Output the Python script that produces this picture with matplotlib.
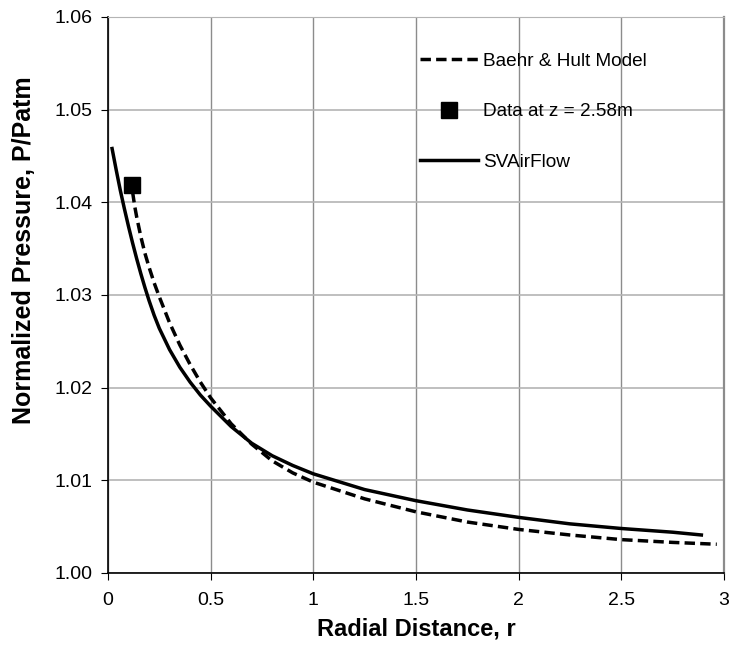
import matplotlib.pyplot as plt

plt.rcParams['font.family'] = ['Liberation Sans', 'DejaVu Sans']

# Baehr & Hult model (dashed)
r_model = [0.12, 0.13, 0.14, 0.16, 0.18, 0.2, 0.225, 0.25, 0.3, 0.35, 0.4, 0.45, 0.5, 0.6,
           0.7, 0.8, 0.9, 1.0, 1.25, 1.5, 1.75, 2.0, 2.25, 2.5, 2.75, 2.965]
p_model = [1.0411, 1.0396, 1.0384, 1.0363, 1.0345, 1.0330, 1.0313, 1.0298, 1.0270, 1.0246,
           1.0225, 1.0206, 1.0189, 1.0161, 1.0139, 1.0121, 1.0108, 1.0098, 1.0080, 1.0066,
           1.0055, 1.0047, 1.0041, 1.0036, 1.0033, 1.0031]

# measured point
r_data = [0.118]
p_data = [1.0419]

# SVAirFlow (solid)
r_sv = [0.02, 0.04, 0.06, 0.08, 0.10, 0.12, 0.14, 0.16, 0.18, 0.20, 0.225, 0.25, 0.3, 0.35,
        0.4, 0.45, 0.5, 0.6, 0.7, 0.8, 0.9, 1.0, 1.25, 1.5, 1.75, 2.0, 2.25, 2.5, 2.75, 2.89]
p_sv = [1.0458, 1.0435, 1.0413, 1.0393, 1.0374, 1.0356, 1.0339, 1.0323, 1.0308, 1.0294,
        1.0278, 1.0264, 1.0241, 1.0222, 1.0206, 1.0192, 1.0180, 1.0158, 1.0140, 1.01265,
        1.0116, 1.0107, 1.0090, 1.0078, 1.0068, 1.0060, 1.0053, 1.0048, 1.0044, 1.0041]

fig = plt.figure(figsize=(7.32, 6.52), dpi=100)
ax = fig.add_axes([0.1475, 0.1212, 0.8415, 0.8528])

ax.plot(r_model, p_model, color='black', lw=2.5, ls=(0, (3, 1.5)), label='Baehr & Hult Model')
ax.plot(r_data, p_data, ls='none', marker='s', ms=11.5, color='black', label='Data at z = 2.58m')
ax.plot(r_sv, p_sv, color='black', lw=2.5, label='SVAirFlow')

ax.set_xlim(0, 3)
ax.set_ylim(1.0, 1.06)
ax.set_xticks([0, 0.5, 1, 1.5, 2, 2.5, 3])
ax.set_xticklabels(['0', '0.5', '1', '1.5', '2', '2.5', '3'])
ax.set_yticks([1.00, 1.01, 1.02, 1.03, 1.04, 1.05, 1.06])
ax.set_yticklabels(['1.00', '1.01', '1.02', '1.03', '1.04', '1.05', '1.06'])
ax.tick_params(labelsize=14, direction='out', length=5, color='black', pad=6)
ax.tick_params(axis='x', pad=9)
ax.xaxis.grid(True, color='#8c8c8c', lw=1)
ax.yaxis.grid(True, color='#b4b4b4', lw=1.2)

ax.spines['top'].set_color('#b4b4b4')
ax.spines['right'].set_color('#8c8c8c')
ax.spines['right'].set_linewidth(1.6)
for s in ['left', 'bottom']:
    ax.spines[s].set_color('black')
    ax.spines[s].set_linewidth(1.2)

ax.set_xlabel('Radial Distance, r', fontsize=17, fontweight='bold', labelpad=6)
ax.set_ylabel('Normalized Pressure, P/Patm', fontsize=18, fontweight='bold')
ax.yaxis.set_label_coords(-0.117, 0.581)

ax.legend(loc='upper left', bbox_to_anchor=(0.506, 0.936), frameon=False, fontsize=13.7,
          borderpad=0, borderaxespad=0, handlelength=3.05, labelspacing=1.74, handletextpad=0.26)

fig.savefig('out.png', dpi=100)
